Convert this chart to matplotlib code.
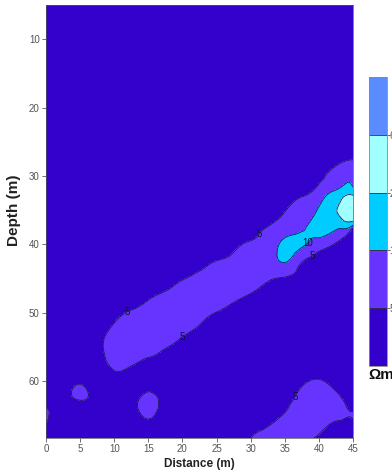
import numpy as np
import matplotlib
matplotlib.use('Agg')
import matplotlib.pyplot as plt
import matplotlib.tri as mtri

plt.rcParams['font.family'] = ['Liberation Sans', 'DejaVu Sans']

# grid nodes (m)
distance = [0, 2.5, 5, 7.5, 10, 12.5, 15, 17.5, 20, 22.5, 25, 27.5, 30, 32.5, 35, 37.5, 40, 42.5, 45]
depth = [5, 7.5, 10, 12.5, 15, 17.5, 20, 22.5, 25, 27.5, 30, 32.5, 35, 37.5, 40,
         42.5, 45, 47.5, 50, 52.5, 55, 57.5, 60, 62.5, 65, 67.5, 70]

# resistivity (ohm.m), one row per depth, one column per distance
rho = [
    [2.5] * 19,
    [2.5] * 19,
    [2.5] * 19,
    [2.5] * 19,
    [2.5] * 19,
    [2.5] * 19,
    [2.5] * 19,
    [2.5] * 19,
    [2.5, 2.5, 2.5, 2.5, 2.5, 2.5, 2.5, 2.5, 2.5, 2.5, 2.5, 2.5, 2.5, 2.5, 2.5, 2.5, 2.5, 2.5, 2.8],
    [2.5, 2.5, 2.5, 2.5, 2.5, 2.5, 2.5, 2.5, 2.5, 2.5, 2.5, 2.5, 2.5, 2.5, 2.5, 2.5, 2.5, 3.6, 4.8],
    [2.5, 2.5, 2.5, 2.5, 2.5, 2.5, 2.5, 2.5, 2.5, 2.5, 2.5, 2.5, 2.5, 2.5, 2.5, 2.5, 3.9, 6.8, 8.6],
    [2.5, 2.5, 2.5, 2.5, 2.5, 2.5, 2.5, 2.5, 2.5, 2.5, 2.5, 2.5, 2.5, 2.5, 2.8, 4.4, 6.8, 11.7, 16.0],
    [2.5, 2.5, 2.5, 2.5, 2.5, 2.5, 2.5, 2.5, 2.5, 2.5, 2.5, 2.5, 2.5, 3.1, 4.8, 6.6, 10.9, 19.5, 40.0],
    [2.5, 2.5, 2.5, 2.5, 2.5, 2.5, 2.5, 2.5, 2.5, 2.5, 2.5, 2.5, 3.6, 5.1, 7.3, 9.0, 12.9, 11.7, 5.8],
    [2.5, 2.5, 2.5, 2.5, 2.5, 2.5, 2.5, 2.5, 2.5, 2.5, 3.1, 4.2, 5.6, 7.1, 11.5, 10.8, 7.3, 4.7, 3.3],
    [2.5, 2.5, 2.5, 2.5, 2.5, 2.5, 2.5, 2.5, 2.8, 4.0, 5.1, 6.2, 7.6, 7.4, 10.3, 5.2, 2.8, 2.7, 2.5],
    [2.5, 2.5, 2.5, 2.5, 2.5, 2.5, 2.5, 3.6, 4.8, 6.0, 7.1, 7.9, 6.7, 5.4, 4.5, 3.1, 2.5, 2.5, 2.5],
    [2.5, 2.5, 2.5, 2.5, 2.5, 3.4, 4.5, 5.6, 6.8, 8.0, 7.0, 5.9, 4.7, 3.4, 2.5, 2.5, 2.5, 2.5, 2.5],
    [2.5, 2.5, 2.5, 2.5, 4.0, 5.4, 6.5, 7.6, 7.9, 6.4, 4.9, 3.9, 2.7, 2.5, 2.5, 2.5, 2.5, 2.5, 2.5],
    [2.5, 2.5, 2.5, 2.8, 6.0, 7.4, 8.4, 7.2, 5.9, 4.4, 3.0, 2.5, 2.5, 2.5, 2.5, 2.5, 2.5, 2.5, 2.5],
    [2.5, 2.5, 2.5, 3.3, 8.0, 7.3, 6.4, 5.2, 3.9, 2.5, 2.5, 2.5, 2.5, 2.5, 2.5, 2.5, 2.5, 2.5, 2.5],
    [2.5, 2.5, 2.5, 2.8, 6.0, 5.3, 4.4, 3.2, 2.5, 2.5, 2.5, 2.5, 2.5, 2.5, 2.5, 2.5, 3.2, 2.5, 2.5],
    [2.5, 3.0, 4.5, 3.0, 4.0, 3.3, 4.0, 2.5, 2.5, 2.5, 2.5, 2.5, 2.5, 2.5, 2.5, 4.3, 5.3, 3.8, 2.5],
    [3.0, 3.8, 5.3, 3.8, 2.5, 3.8, 5.7, 3.8, 2.5, 2.5, 2.5, 2.5, 2.5, 2.5, 3.4, 6.3, 7.0, 5.8, 3.0],
    [5.8, 3.0, 2.5, 2.5, 2.5, 3.3, 5.5, 3.0, 2.5, 2.5, 2.5, 2.5, 2.5, 3.7, 5.4, 7.5, 6.5, 5.8, 5.2],
    [3.0, 2.5, 2.5, 2.5, 2.5, 2.5, 3.2, 2.5, 2.5, 2.5, 2.5, 2.5, 4.5, 5.7, 7.4, 6.8, 5.2, 3.3, 2.5],
    [2.5, 2.5, 2.5, 2.5, 2.5, 2.5, 2.5, 2.5, 2.5, 2.5, 2.5, 2.5, 4.8, 7.0, 8.0, 5.8, 2.5, 2.5, 2.5],
]

levels = [-100, 5, 10, 20, 60, 1000]
cbar_ticks = [5, 10, 20, 60]
fill_colors = ['#3300CC', '#6633FF', '#00CCFF', '#A0FFFF', '#5A8CFF']

# contour label spots (distance, depth)
labels_5 = [(12, 50), (20, 53.5), (31, 38.2), (39, 41.8), (36.2, 62.1)]
labels_10 = [(38.4, 39.8)]

X, Y = np.meshgrid(distance, depth)
Z = np.array(rho)
tri = mtri.Triangulation(X.ravel(), Y.ravel())
refiner = mtri.UniformTriRefiner(tri)
tri_f, z_f = refiner.refine_field(Z.ravel(), subdiv=3)

fig = plt.figure(figsize=(3.92, 4.71), dpi=100)
ax = fig.add_axes([0.1173, 0.070, 0.7832, 0.9194])

cf = ax.tricontourf(tri_f, z_f, levels=levels, colors=fill_colors)
cs = ax.tricontour(tri_f, z_f, levels=[5, 10, 20, 60], colors='#1a1a50', linewidths=0.6)

cs5 = ax.tricontour(tri_f, z_f, levels=[5], colors='none')
cs10 = ax.tricontour(tri_f, z_f, levels=[10], colors='none')
t5 = ax.clabel(cs5, fmt='%d', fontsize=7, inline=False, manual=labels_5, colors='#111133')
t10 = ax.clabel(cs10, fmt='%d', fontsize=7, inline=False, manual=labels_10, colors='#111133')
for t in list(t5) + list(t10):
    t.set_rotation(0)

ax.set_xlim(0, 45)
ax.set_ylim(68.3, 5)
ax.set_xticks([0, 5, 10, 15, 20, 25, 30, 35, 40, 45])
ax.set_yticks([10, 20, 30, 40, 50, 60])
ax.tick_params(labelsize=7, labelcolor='#555555', color='#555555', length=3, width=0.6, pad=1.5)
for sp in ax.spines.values():
    sp.set_color('#555555')
    sp.set_linewidth(0.5)

ax.set_xlabel('Distance (m)', fontsize=8.5, fontweight='bold', color='#222222')
ax.set_ylabel('Depth (m)', fontsize=11, fontweight='bold', color='#222222')
ax.xaxis.set_label_coords(0.5, -0.045)
ax.yaxis.set_label_coords(-0.08, 0.527)

cax = fig.add_axes([0.9413, 0.2229, 0.0459, 0.6136])
cbar = fig.colorbar(cf, cax=cax, ticks=cbar_ticks, drawedges=True)
cbar.outline.set_edgecolor('#888888')
cbar.outline.set_linewidth(0.6)
cbar.dividers.set_color('#333333')
cbar.dividers.set_linewidth(0.6)
cbar.ax.tick_params(labelsize=7, labelcolor='#555555', color='#555555', length=2, width=0.6, pad=0)

fig.text(0.9388, 0.2038, 'Ωm', fontsize=11, fontweight='bold', ha='left', va='center', color='#111111')

fig.savefig('out.png', dpi=100)
